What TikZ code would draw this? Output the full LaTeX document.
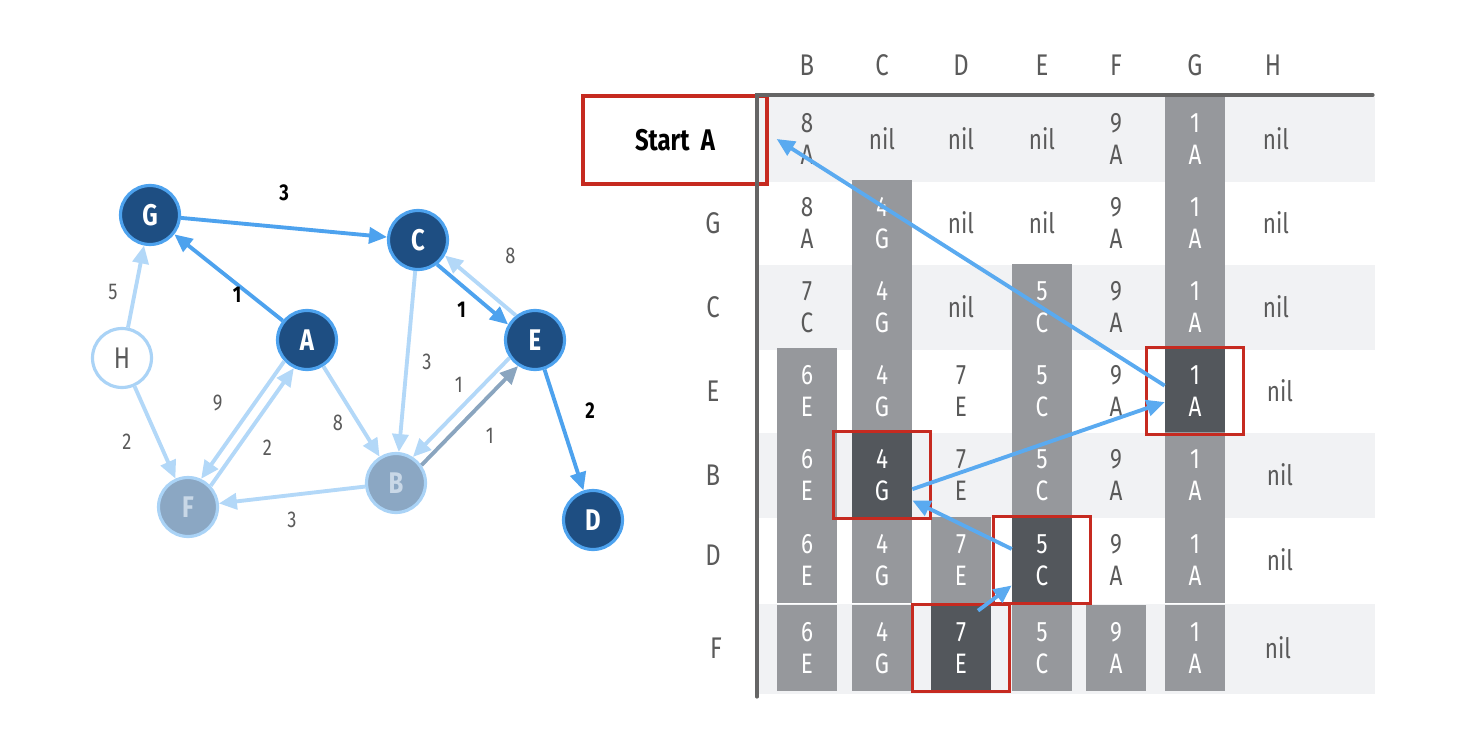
\documentclass[tikz,border=0pt]{standalone}
\usepackage{fontspec}
\setmainfont[FakeStretch=0.8]{Fira Sans}
\usetikzlibrary{arrows.meta,fit,shapes}

\definecolor{navy}{HTML}{1E4E82}
\definecolor{rim}{HTML}{4DA2EE}
\definecolor{rimlight}{HTML}{AAD3F6}
\definecolor{faded}{HTML}{8BA7C3}
\definecolor{fadedtxt}{HTML}{C9D8E7}
\definecolor{edgeblue}{HTML}{4DA2EE}
\definecolor{edgelight}{HTML}{B3D8F8}
\definecolor{edgegray}{HTML}{8AA5BF}
\definecolor{txtgray}{HTML}{5A5A5A}
\definecolor{band}{HTML}{F1F2F4}
\definecolor{cellgray}{HTML}{96989C}
\definecolor{celldark}{HTML}{53575C}
\definecolor{redbox}{HTML}{C62A20}
\definecolor{framegray}{HTML}{656565}
\definecolor{trace}{HTML}{5AAAF0}

\begin{document}
\begin{tikzpicture}[x=0.02cm,y=-0.02cm,
    vtx/.style={circle,minimum size=1.18cm,inner sep=0pt,line width=1.8pt,font=\fontsize{17}{17}\selectfont\bfseries},
    done/.style={vtx,fill=navy,draw=rim,text=white},
    fresh/.style={vtx,fill=white,draw=rimlight,text=txtgray,font=\fontsize{17}{17}\selectfont},
    seen/.style={vtx,fill=faded,draw=rimlight,text=fadedtxt},
    hot/.style={-{Triangle[length=0.36cm,width=0.32cm]},line width=2.2pt,draw=edgeblue},
    cold/.style={hot,draw=edgelight},
    wt/.style={font=\fontsize{13}{13}\selectfont,text=txtgray},
    wtb/.style={wt,text=black,font=\fontsize{13}{13}\selectfont\bfseries},
    hd/.style={font=\fontsize{17}{17}\selectfont,text=txtgray},
    cell/.style={minimum width=1.2cm,minimum height=1.72cm,inner sep=0pt,align=center,font=\fontsize{16}{18}\selectfont,text=txtgray},
    cellg/.style={cell,fill=cellgray,text=white},
    celld/.style={cell,fill=celldark,text=white},
    hl/.style={draw=redbox,line width=1.8pt,inner ysep=0pt,inner xsep=0.36cm},
    tr/.style={-{Triangle[length=0.36cm,width=0.32cm]},line width=2.2pt,draw=trace}]
    \useasboundingbox (0,0) rectangle (1480,736);

    % graph
    \node[done] (G) at (150,215) {G};
    \node[done] (C) at (418,240) {C};
    \node[done] (A) at (307,340) {A};
    \node[done] (E) at (535,340) {E};
    \node[fresh] (H) at (122,358) {H};
    \node[seen] (F) at (188,507) {F};
    \node[seen] (B) at (396,483) {B};
    \node[done] (D) at (593,520) {D};

    \draw[hot] (G) -- (C) node[wtb,midway,yshift=0.69cm] {3};
    \draw[hot] (A) -- (G) node[wtb,midway,xshift=0.17cm,yshift=-0.35cm] {1};
    \draw[hot] (C.308) -- (E.150) node[wtb,midway,xshift=-0.22cm,yshift=-0.3cm] {1};
    \draw[cold] (E.128) -- (C.330) node[wt,midway,xshift=0.6cm,yshift=0.6cm] {8};
    \draw[hot] (E) -- (D) node[wtb,midway,xshift=0.52cm,yshift=0.38cm] {2};
    \draw[cold] (H) -- (G) node[wt,midway,xshift=-0.46cm,yshift=-0.11cm] {5};
    \draw[cold] (H) -- (F) node[wt,midway,xshift=-0.56cm,yshift=-0.19cm] {2};
    \draw[cold] (A.223) -- (F.65) node[wt,midway,xshift=-0.5cm,yshift=0.35cm] {9};
    \draw[cold] (F.43) -- (A.245) node[wt,midway,xshift=0.3cm,yshift=-0.42cm] {2};
    \draw[cold] (A) -- (B) node[wt,midway,xshift=-0.27cm,yshift=-0.23cm] {8};
    \draw[cold] (C) -- (B) node[wt,midway,xshift=0.4cm] {3};
    \draw[cold] (E.215) -- (B.57) node[wt,midway,xshift=-0.05cm,yshift=0.45cm] {1};
    \draw[hot,draw=edgegray] (B.35) -- (E.237) node[wt,midway,xshift=0.4cm,yshift=-0.4cm] {1};
    \draw[cold] (B) -- (F) node[wt,midway,yshift=-0.5cm] {3};

    % table
    \fill[band] (757,97) rectangle (1375,182);
    \fill[band] (757,265) rectangle (1375,350);
    \fill[band] (757,433) rectangle (1375,518);
    \fill[band] (757,604) rectangle (1375,694);

    \node[hd] (hB) at (807,65) {B};
    \node[hd] (hC) at (882,65) {C};
    \node[hd] (hD) at (961,65) {D};
    \node[hd] (hE) at (1042,65) {E};
    \node[hd] (hF) at (1116,65) {F};
    \node[hd] (hG) at (1195,65) {G};
    \node[hd] (hH) at (1273,65) {H};

    \node[draw=redbox,line width=1.8pt,minimum width=3.68cm,minimum height=1.76cm,font=\fontsize{17}{17}\selectfont\bfseries] (st) at (675,140) {Start\ \ A};
    \node[hd] (rG) at (713,223) {G};
    \node[hd] (rC) at (713,307) {C};
    \node[hd] (rE) at (713,391) {E};
    \node[hd] (rB) at (713,475) {B};
    \node[hd] (rD) at (713,555) {D};
    \node[hd] (rF) at (716,648) {F};

    \node[cell] (a1) at (807,139) {8\\A};
    \node[cell] (a2) at (882,139) {nil};
    \node[cell] (a3) at (961,139) {nil};
    \node[cell] (a4) at (1042,139) {nil};
    \node[cell] (a5) at (1116,139) {9\\A};
    \node[cellg] (a6) at (1195,139) {1\\A};
    \node[cell] (a7) at (1276,139) {nil};

    \node[cell] (g1) at (807,223) {8\\A};
    \node[cellg] (g2) at (882,223) {4\\G};
    \node[cell] (g3) at (961,223) {nil};
    \node[cell] (g4) at (1042,223) {nil};
    \node[cell] (g5) at (1116,223) {9\\A};
    \node[cellg] (g6) at (1195,223) {1\\A};
    \node[cell] (g7) at (1276,223) {nil};

    \node[cell] (c1) at (807,307) {7\\C};
    \node[cellg] (c2) at (882,307) {4\\G};
    \node[cell] (c3) at (961,307) {nil};
    \node[cellg] (c4) at (1042,307) {5\\C};
    \node[cell] (c5) at (1116,307) {9\\A};
    \node[cellg] (c6) at (1195,307) {1\\A};
    \node[cell] (c7) at (1276,307) {nil};

    \node[cellg] (e1) at (807,391) {6\\E};
    \node[cellg] (e2) at (882,391) {4\\G};
    \node[cell] (e3) at (961,391) {7\\E};
    \node[cellg] (e4) at (1042,391) {5\\C};
    \node[cell] (e5) at (1116,391) {9\\A};
    \node[celld] (e6) at (1195,391) {1\\A};
    \node[cell] (e7) at (1280,391) {nil};

    \node[cellg] (b1) at (807,475) {6\\E};
    \node[celld] (b2) at (882,475) {4\\G};
    \node[cell] (b3) at (961,475) {7\\E};
    \node[cellg] (b4) at (1042,475) {5\\C};
    \node[cell] (b5) at (1116,475) {9\\A};
    \node[cellg] (b6) at (1195,475) {1\\A};
    \node[cell] (b7) at (1280,475) {nil};

    \node[cellg] (d1) at (807,560) {6\\E};
    \node[cellg] (d2) at (882,560) {4\\G};
    \node[cellg] (d3) at (961,560) {7\\E};
    \node[celld] (d4) at (1042,560) {5\\C};
    \node[cell] (d5) at (1116,560) {9\\A};
    \node[cellg] (d6) at (1195,560) {1\\A};
    \node[cell] (d7) at (1280,560) {nil};

    \node[cellg] (f1) at (807,648) {6\\E};
    \node[cellg] (f2) at (882,648) {4\\G};
    \node[celld] (f3) at (961,648) {7\\E};
    \node[cellg] (f4) at (1042,648) {5\\C};
    \node[cellg] (f5) at (1116,648) {9\\A};
    \node[cellg] (f6) at (1195,648) {1\\A};
    \node[cell] (f7) at (1278,648) {nil};

    \node[hl,fit=(e6)] {};
    \node[hl,fit=(b2)] {};
    \node[hl,fit=(d4)] {};
    \node[hl,fit=(f3)] {};

    \draw[framegray,line width=1.8pt,line cap=round] (1373,95) -- (757,95) -- (757,697);

    % path back to the start
    \draw[tr] (e6.170) -- (a1.west);
    \draw[tr] (d4.160) -- (b2.-40);
    \draw[tr] (b2.-25) -- (e6.200);
    \draw[tr,shorten <=-0.2cm] (f3.60) -- (d4.220);
\end{tikzpicture}
\end{document}
